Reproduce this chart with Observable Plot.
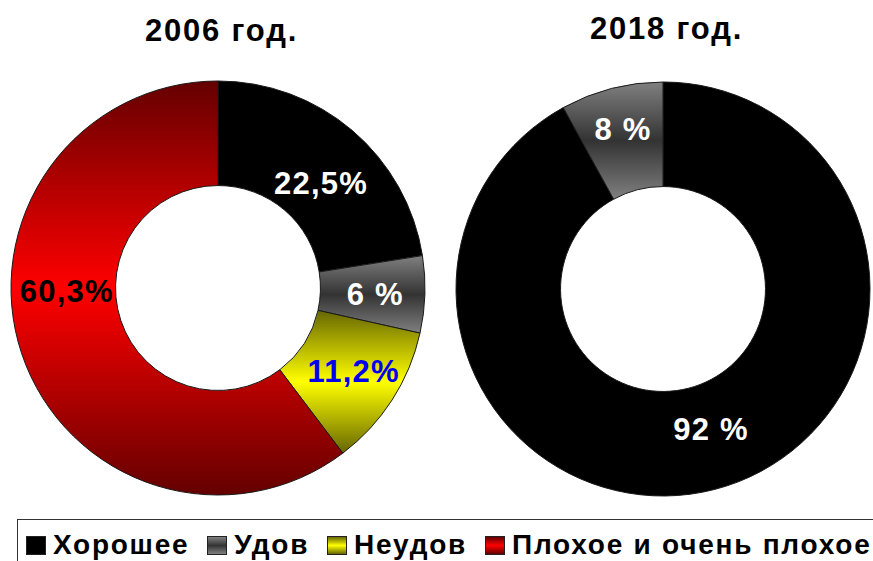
<!DOCTYPE html>
<html><head><meta charset="utf-8">
<script src="https://cdn.jsdelivr.net/npm/d3@7"></script>
<script src="https://cdn.jsdelivr.net/npm/@observablehq/plot@0.6"></script>
<style>
html,body{margin:0;padding:0;background:#fff;overflow:hidden;width:873px;height:561px;}
#wrap{position:relative;width:873px;height:561px;}
.chart{position:absolute;top:0;}
.legend{position:absolute;left:17px;top:519px;width:900px;height:70px;border:1.5px solid #333;box-sizing:border-box;
  font-family:"Liberation Sans",Arial,sans-serif;font-size:28px;font-weight:bold;letter-spacing:1.75px;color:#000;display:flex;align-items:flex-start;padding-left:8px;padding-top:14px;white-space:nowrap;}
.legend .item{display:flex;align-items:center;margin-right:18px;}
.legend .sw{width:18px;height:17px;border:1px solid #222;margin-right:7px;flex:none;}
.legend .lt{line-height:22px;}
</style>
</head><body><div id="wrap"></div>
<script>
// ---- data ----
const categories = ["Хорошее", "Удов", "Неудов", "Плохое и очень плохое"];
const years = ["2006 год.", "2018 год."];
const values2006 = [22.5, 6, 11.2, 60.3];
const values2018 = [92, 8, 0, 0];
const labels2006 = ["22,5%", "6 %", "11,2%", "60,3%"];
const labels2018 = ["92 %", "8 %", "", ""];

// ---- styles ----
const gradStops = {
  "Хорошее": ["#000000", "#000000", "#000000"],
  "Удов": ["#808080", "#333333", "#808080"],
  "Неудов": ["#666600", "#ffff00", "#666600"],
  "Плохое и очень плохое": ["#640000", "#ff0000", "#640000"]
};
const labelColors2006 = ["#ffffff", "#ffffff", "#0000ee", "#000000"];
const labelColors2018 = ["#ffffff", "#ffffff", "#ffffff", "#ffffff"];
const innerRatio = 0.495;
// pixel nudges to mimic the original label placement
const nudges2006 = [[2, 13], [2, 2], [5, 0], [-5, -46]];
const nudges2018 = [[9, -9], [-2, -10], [0, 0], [0, 0]];

function donut(year, values, labels, labelColors, nudges, layout, uid) {
  const rows = categories.map((c, i) => ({category: c, value: values[i], label: labels[i], color: labelColors[i], nudge: nudges[i], i}))
    .filter(d => d.value > 0);
  const arcs = d3.pie().sort(null).value(d => d.value)(rows);
  arcs.forEach(a => {
    const mid = (a.startAngle + a.endAngle) / 2;
    const rr = (1 + innerRatio) / 2;
    a.data.lx = rr * Math.sin(mid);
    a.data.ly = rr * Math.cos(mid);
  });
  const ringMark = (index, scales) => {
    const {x, y} = scales;
    const cx = x(0), cy = y(0), R = x(1) - x(0);
    const g = d3.create("svg:g");
    const defs = g.append("defs");
    categories.forEach((c, k) => {
      const lg = defs.append("linearGradient").attr("id", `g${uid}${k}`)
        .attr("x1", 0).attr("y1", 0).attr("x2", 0).attr("y2", 1);
      gradStops[c].forEach((col, j) => lg.append("stop").attr("offset", j / 2).attr("stop-color", col));
    });
    const arc = d3.arc().innerRadius(R * innerRatio).outerRadius(R);
    g.append("g").attr("transform", `translate(${cx},${cy})`)
      .selectAll("path").data(arcs).join("path")
      .attr("d", arc)
      .attr("fill", d => `url(#g${uid}${d.data.i})`)
      .attr("stroke", "#1a1a1a").attr("stroke-width", 1).attr("stroke-linejoin", "round");
    return g.node();
  };
  const labelMarks = rows.map(d => Plot.text([d], {
    x: "lx", y: "ly", text: "label", fill: d.color, dx: d.nudge[0], dy: d.nudge[1],
    fontSize: 31, fontWeight: "bold", fontFamily: "Liberation Sans, Arial, sans-serif"
  }));
  const svg = Plot.plot({
    width: layout.width, height: 510,
    marginLeft: layout.ml, marginRight: layout.mr, marginTop: layout.mt, marginBottom: layout.mb,
    x: {domain: [-1, 1], axis: null},
    y: {domain: [-1, 1], axis: null},
    style: {fontFamily: "Liberation Sans, Arial, sans-serif", background: "transparent", overflow: "visible"},
    marks: [
      ringMark,
      ...labelMarks,
      Plot.text([year], {x: [0], text: d => d, frameAnchor: "top", lineAnchor: "middle", dy: layout.titleDy, dx: 3,
        fontSize: 31, fontWeight: "bold", fill: "#000"})
    ]
  });
  d3.select(svg).selectAll("text").filter(function() { return this.textContent === year; })
    .style("letter-spacing", "1.8px");
  d3.select(svg).selectAll("text").filter(function() { return labels.includes(this.textContent); })
    .style("letter-spacing", "1.2px");
  return svg;
}

const wrap = document.getElementById("wrap");
const left = donut(years[0], values2006, labels2006, labelColors2006, nudges2006,
  {width: 436, ml: 11, mr: 11, mt: 81, mb: 15, titleDy: -50}, "a");
left.classList.add("chart"); left.style.left = "0px";
wrap.appendChild(left);
const right = donut(years[1], values2018, labels2018, labelColors2018, nudges2018,
  {width: 437, ml: 20, mr: 3, mt: 82, mb: 14, titleDy: -53}, "b");
right.classList.add("chart"); right.style.left = "436px";
wrap.appendChild(right);

// legend
const legend = document.createElement("div");
legend.className = "legend";
categories.forEach(c => {
  const s = gradStops[c];
  const item = document.createElement("div");
  item.className = "item";
  const sw = document.createElement("span");
  sw.className = "sw";
  sw.style.background = `linear-gradient(to bottom, ${s[0]}, ${s[1]}, ${s[2]})`;
  const lt = document.createElement("span");
  lt.className = "lt";
  lt.textContent = c;
  item.appendChild(sw); item.appendChild(lt);
  legend.appendChild(item);
});
wrap.appendChild(legend);
</script>
</body></html>
